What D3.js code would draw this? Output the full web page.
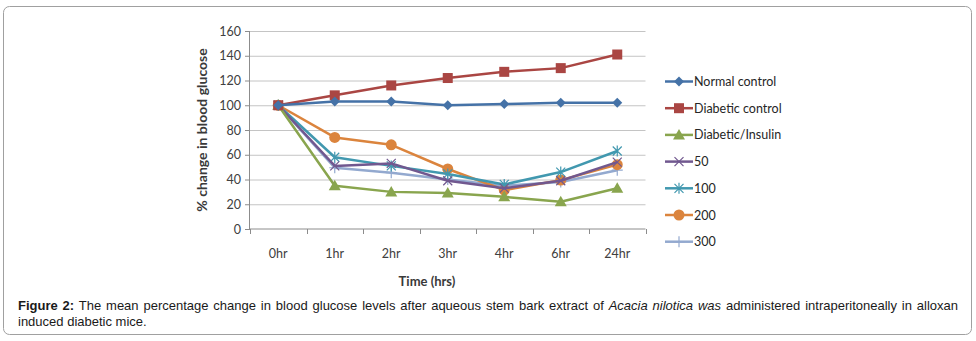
<!DOCTYPE html>
<html>
<head>
<meta charset="utf-8">
<script src="https://cdn.jsdelivr.net/npm/d3@7"></script>
<style>
  html, body { margin: 0; padding: 0; background: #fff; }
  svg { display: block; }
</style>
</head>
<body>
<svg id="chart"></svg>
<script>
// Données
const categories = ["0hr", "1hr", "2hr", "3hr", "4hr", "6hr", "24hr"];
const yTicks = [0, 20, 40, 60, 80, 100, 120, 140, 160];

const normalControl = [100, 103, 103, 100, 101, 102, 102];
const diabeticControl = [100, 108, 116, 122, 127, 130, 141];
const diabeticInsulin = [100, 35, 30, 29, 26, 22, 33];
const dose50 = [100, 51, 53, 39, 33, 39, 54];
const dose100 = [100, 58, 51, 44.5, 36, 46, 63];
const dose200 = [100, 74, 68, 48.5, 31.5, 39.5, 52];
const dose300 = [100, 49.5, 45.5, 40, 35, 38, 47.5];

const seriesNames = ["Normal control", "Diabetic control", "Diabetic/Insulin", "50", "100", "200", "300"];
const seriesValues = [normalControl, diabeticControl, diabeticInsulin, dose50, dose100, dose200, dose300];
const seriesColors = ["#4572A7", "#AA4643", "#89A54E", "#71588F", "#4198AF", "#DB843D", "#93A9CF"];
const seriesMarkers = ["diamond", "square", "triangle", "x", "star", "circle", "plus"];

const width = 976, height = 341;
const svg = d3.select("#chart").attr("width", width).attr("height", height);

// cadre arrondi
svg.append("rect")
  .attr("x", 3.5).attr("y", 6.5)
  .attr("width", 968).attr("height", 328)
  .attr("rx", 6)
  .attr("fill", "#fff")
  .attr("stroke", "#a0a0a0")
  .attr("stroke-width", 1);

const x = d3.scaleBand().domain(categories).range([250, 645.5]);
const y = d3.scaleLinear().domain([0, 160]).range([229, 31]);
const cx = c => x(c) + x.bandwidth() / 2;

const font = "Lato, 'Open Sans', sans-serif";

// grille horizontale
svg.append("g")
  .attr("transform", "translate(250,0)")
  .call(d3.axisLeft(y).tickValues(yTicks.filter(v => v > 0)).tickSize(-395.5).tickFormat(""))
  .call(g => g.select(".domain").remove())
  .selectAll("line")
  .attr("stroke", "#c4c4c4");

// axe Y
svg.append("g")
  .attr("transform", "translate(250,0)")
  .call(d3.axisLeft(y).tickValues(yTicks).tickSize(5).tickPadding(4))
  .call(g => g.select(".domain").attr("stroke", "#8c8c8c").attr("d", `M-0.5,${y(0)}V${y(160)}`))
  .call(g => g.selectAll("line").attr("stroke", "#8c8c8c"))
  .call(g => g.selectAll("text")
    .style("font-family", font).style("font-size", "12.5px").attr("fill", "#404040"));

// axe X : ligne, graduations aux limites des catégories, étiquettes au centre
const xg = svg.append("g").attr("transform", `translate(0,${y(0)})`);
xg.append("line")
  .attr("x1", 250).attr("x2", 645.5)
  .attr("stroke", "#8c8c8c");
xg.selectAll(".tk")
  .data(categories.map(c => x(c)).concat([x.range()[1]]))
  .enter().append("line")
  .attr("x1", d => Math.round(d) + 0.5).attr("x2", d => Math.round(d) + 0.5)
  .attr("y1", 0).attr("y2", 5)
  .attr("stroke", "#8c8c8c");
xg.selectAll(".lbl")
  .data(categories)
  .enter().append("text")
  .attr("x", d => cx(d))
  .attr("y", 29)
  .attr("text-anchor", "middle")
  .style("font-family", font).style("font-size", "12.5px")
  .attr("fill", "#404040")
  .text(d => d);

// titres des axes
svg.append("text")
  .attr("transform", `translate(207,${(y(0) + y(160)) / 2}) rotate(-90)`)
  .attr("text-anchor", "middle")
  .style("font-family", font).style("font-size", "14px").style("font-weight", "bold")
  .attr("fill", "#3a3a3a")
  .text("% change in blood glucose");

svg.append("text")
  .attr("x", 427).attr("y", 286)
  .attr("text-anchor", "middle")
  .style("font-family", font).style("font-size", "13px").style("font-weight", "bold")
  .attr("fill", "#3a3a3a")
  .text("Time (hrs)");

// marqueurs
function drawMarker(g, type, color, px, py) {
  const s = 5;
  if (type === "diamond") {
    g.append("path").attr("d", `M${px},${py - s}L${px + s},${py}L${px},${py + s}L${px - s},${py}Z`).attr("fill", color);
  } else if (type === "square") {
    g.append("rect").attr("x", px - 5).attr("y", py - 5).attr("width", 10).attr("height", 10).attr("fill", color);
  } else if (type === "triangle") {
    g.append("path").attr("d", `M${px},${py - 6}L${px + 6},${py + 4.5}L${px - 6},${py + 4.5}Z`).attr("fill", color);
  } else if (type === "circle") {
    g.append("circle").attr("cx", px).attr("cy", py).attr("r", 5.5).attr("fill", color);
  } else if (type === "x") {
    g.append("path").attr("d", `M${px - 4.5},${py - 4.5}L${px + 4.5},${py + 4.5}M${px - 4.5},${py + 4.5}L${px + 4.5},${py - 4.5}`)
      .attr("stroke", color).attr("stroke-width", 1.2).attr("fill", "none");
  } else if (type === "star") {
    g.append("path").attr("d", `M${px - 4.5},${py - 4.5}L${px + 4.5},${py + 4.5}M${px - 4.5},${py + 4.5}L${px + 4.5},${py - 4.5}M${px},${py - 5.5}L${px},${py + 5.5}`)
      .attr("stroke", color).attr("stroke-width", 1.2).attr("fill", "none");
  } else if (type === "plus") {
    g.append("path").attr("d", `M${px - 5.5},${py}L${px + 5.5},${py}M${px},${py - 5.5}L${px},${py + 5.5}`)
      .attr("stroke", color).attr("stroke-width", 1.2).attr("fill", "none");
  }
}

const line = d3.line().x((d, i) => cx(categories[i])).y(d => y(d));

// dessiner de la dernière série vers la première
for (let k = seriesValues.length - 1; k >= 0; k--) {
  const g = svg.append("g");
  g.append("path")
    .datum(seriesValues[k])
    .attr("d", line)
    .attr("fill", "none")
    .attr("stroke", seriesColors[k])
    .attr("stroke-width", 2.5)
    .attr("stroke-linejoin", "round");
  seriesValues[k].forEach((v, i) => drawMarker(g, seriesMarkers[k], seriesColors[k], cx(categories[i]), y(v)));
}

// légende
const legend = svg.append("g").attr("transform", "translate(665,81.5)");
seriesNames.forEach((name, k) => {
  const row = legend.append("g").attr("transform", `translate(0,${k * 26.7})`);
  row.append("line").attr("x1", 0).attr("x2", 28).attr("y1", 0).attr("y2", 0)
    .attr("stroke", seriesColors[k]).attr("stroke-width", 2.5);
  drawMarker(row, seriesMarkers[k], seriesColors[k], 14, 0);
  row.append("text")
    .attr("x", 29).attr("y", 4.5)
    .style("font-family", font).style("font-size", "12.5px")
    .attr("fill", "#262626")
    .text(name);
});

// légende de la figure (texte justifié sur la première ligne)
const capFont = "'Liberation Sans', Arial, sans-serif";
const cap1 = svg.append("text")
  .attr("x", 18).attr("y", 310)
  .style("font-family", capFont).style("font-size", "13px")
  .attr("fill", "#1a1a1a");
cap1.append("tspan").style("font-weight", "bold").text("Figure 2:");
cap1.append("tspan").text(" The mean percentage change in blood glucose levels after aqueous stem bark extract of ");
cap1.append("tspan").style("font-style", "italic").text("Acacia nilotica was");
cap1.append("tspan").text(" administered intraperitoneally in alloxan");
const fullText = "Figure 2: The mean percentage change in blood glucose levels after aqueous stem bark extract of Acacia nilotica was administered intraperitoneally in alloxan";
const spaces = fullText.split(" ").length - 1;
const len = cap1.node().getComputedTextLength();
cap1.attr("word-spacing", Math.max(0, (940 - len) / spaces));

svg.append("text")
  .attr("x", 18).attr("y", 326)
  .style("font-family", capFont).style("font-size", "13px")
  .attr("fill", "#1a1a1a")
  .text("induced diabetic mice.");
</script>
</body>
</html>
